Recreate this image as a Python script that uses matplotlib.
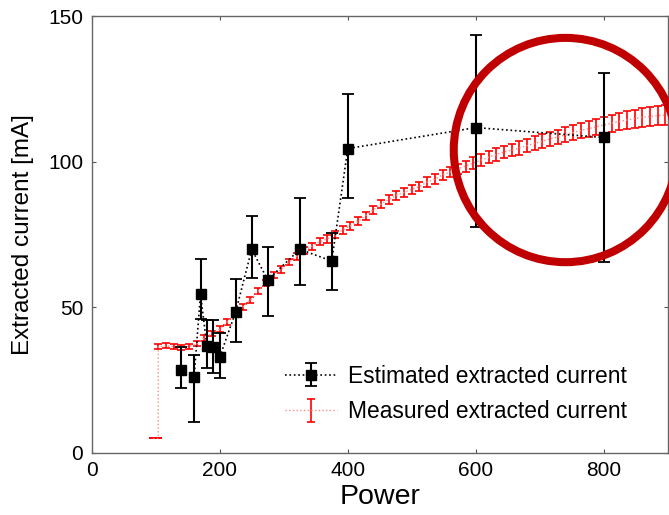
import numpy as np
from matplotlib import pyplot as plt
from matplotlib.patches import Ellipse

plt.rcParams['font.family'] = ['Liberation Sans', 'DejaVu Sans']

# Estimated extracted current (black squares, asymmetric error bars)
est_power = [140, 160, 170, 180, 190, 200, 225, 250, 275, 325, 375, 400, 600, 800]
est_current = [28.6, 26.2, 54.5, 36.7, 36.3, 32.9, 48.5, 69.9, 59.4, 69.9, 65.9, 104.5, 111.7, 108.3]
est_low = [22.4, 10.7, 45.9, 29.3, 27.6, 25.6, 38.2, 60.2, 47.0, 57.6, 56.0, 87.6, 77.7, 65.7]
est_high = [36.5, 33.8, 66.6, 45.7, 45.5, 41.1, 59.7, 81.5, 70.8, 87.6, 75.5, 123.2, 143.5, 130.5]

# Measured extracted current (red error bars)
meas_power = [96, 104, 104, 116, 128, 140, 152, 164, 176, 188, 200, 212, 224, 236, 248,
              260, 272, 284, 296, 308, 320, 332, 344, 356, 368, 380, 392, 404, 416, 428,
              440, 452, 464, 476, 488, 500, 512, 524, 536, 548, 560, 572, 584, 596, 608,
              620, 632, 644, 656, 668, 680, 692, 704, 716, 728, 740, 752, 764, 776, 788,
              800, 812, 824, 836, 848, 860, 872, 884, 896]
meas_current = [5.0, 5.0, 36.5, 36.8, 36.5, 36.3, 36.6, 37.5, 39.5, 41.0, 42.5, 45.0, 48.0, 50.0, 52.5,
                55.5, 58.5, 61.0, 63.0, 65.5, 67.5, 69.5, 71.0, 72.5, 73.5, 75.0, 76.5, 78.0, 79.5, 81.5,
                83.5, 85.5, 87.0, 88.5, 89.5, 90.5, 91.5, 93.0, 94.0, 95.5, 96.5, 97.5, 98.5, 99.5, 100.5,
                101.5, 102.5, 103.3, 104.0, 104.7, 105.5, 106.3, 107.0, 107.8, 108.5, 109.2, 110.0, 110.7, 111.3, 112.0,
                112.6, 113.2, 113.8, 114.3, 114.8, 115.2, 115.5, 115.8, 116.0]
meas_err = [0.0, 0.0, 0.85, 0.85, 0.85, 0.85, 0.85, 0.9, 0.9, 0.9, 0.95, 0.95, 1.0, 1.0, 1.0,
            1.05, 1.05, 1.1, 1.1, 1.1, 1.15, 1.15, 1.2, 1.2, 1.25, 1.25, 1.3, 1.3, 1.35, 1.35,
            1.4, 1.4, 1.45, 1.5, 1.55, 1.6, 1.6, 1.65, 1.7, 1.75, 1.8, 1.85, 1.9, 1.95, 2.0,
            2.05, 2.1, 2.15, 2.2, 2.25, 2.3, 2.35, 2.4, 2.45, 2.5, 2.55, 2.6, 2.65, 2.7, 2.8,
            2.85, 2.9, 3.0, 3.05, 3.1, 3.2, 3.25, 3.3, 3.4]

fig = plt.figure(figsize=(6.69, 5.15), dpi=100)
ax = fig.add_axes([0.137, 0.1204, 0.8614, 0.8485])

est_yerr = [np.array(est_current) - np.array(est_low), np.array(est_high) - np.array(est_current)]
ax.errorbar(est_power, est_current, yerr=est_yerr, fmt='s:', color='black',
            markersize=6.5, linewidth=1.2, elinewidth=1.5, capsize=4, capthick=1.3,
            label='Estimated extracted current', zorder=3)
ax.errorbar(meas_power, meas_current, yerr=meas_err, fmt=':', color='#ff8c8c',
            ecolor='red', linewidth=1.0, elinewidth=1.2, capsize=2.7, capthick=1.2,
            label='Measured extracted current', zorder=2)

# highlight circle
ax.add_patch(Ellipse((740, 104), 349, 77, fill=False, edgecolor='#c00000',
                     linewidth=5.8, clip_on=False, zorder=5))

ax.set_xlim(0, 900)
ax.set_ylim(0, 150)
ax.set_xticks([0, 200, 400, 600, 800])
ax.set_yticks([0, 50, 100, 150])
ax.tick_params(direction='in', top=True, right=True, length=3, width=0.8,
               color='#555555', labelsize=15, pad=6)
for s in ax.spines.values():
    s.set_color('#666666')
    s.set_linewidth(1.0)

ax.set_xlabel('Power', fontsize=20.5, labelpad=3)
ax.set_ylabel('Extracted current [mA]', fontsize=17.5, labelpad=10)

ax.legend(loc='lower left', bbox_to_anchor=(0.335, 0.068), frameon=False,
          fontsize=16.4, handlelength=2.3, handletextpad=0.5, labelspacing=0.55,
          borderpad=0, borderaxespad=0)

plt.savefig('out.png', dpi=100)
